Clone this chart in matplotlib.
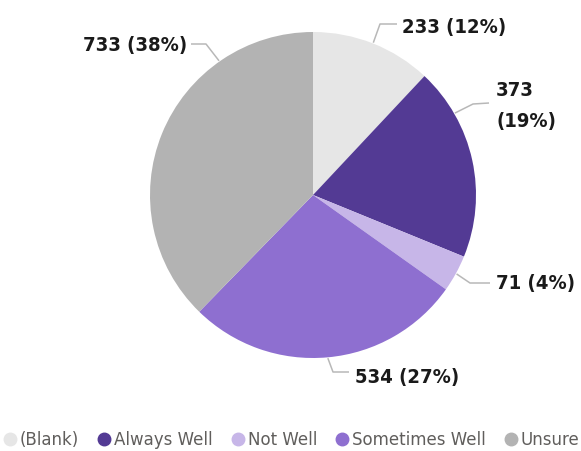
import numpy as np
import matplotlib
matplotlib.use("Agg")
import matplotlib.pyplot as plt
from matplotlib.lines import Line2D

categories = ["(Blank)", "Always Well", "Not Well", "Sometimes Well", "Unsure"]
counts = [233, 373, 71, 534, 733]
percent_labels = ["12%", "19%", "4%", "27%", "38%"]
colors = ["#E6E6E6", "#533A94", "#C7B6E8", "#8E6FD0", "#B3B3B3"]

W, H = 581, 451
fig = plt.figure(figsize=(W / 100, H / 100), dpi=100)

# pie centre and radius in pixels
cx, cy, R = 313, 195, 163
ax = fig.add_axes([(cx - R) / W, (H - cy - R) / H, 2 * R / W, 2 * R / H])
ax.pie(counts, colors=colors, startangle=90, counterclock=False, radius=1,
       wedgeprops=dict(linewidth=0))
ax.set_xlim(-1, 1)
ax.set_ylim(-1, 1)
ax.set_aspect("equal")
ax.axis("off")


def px(x, y):
    return ((x - cx) / R, (cy - y) / R)


# leader geometry: anchor angle on rim, elbow, end of line, text position, alignment
leaders = [
    (68.4, px(380, 24), px(397, 24), px(402, 27), "left"),
    (30.0, px(473, 104), px(489, 103), px(496, 106), "left"),
    (-28.8, px(470, 283), px(490, 283), px(496, 284), "left"),
    (-84.8, px(333, 372), px(349, 372), px(355, 377), "left"),
    (125.0, px(206, 44), px(191, 44), px(187, 45), "right"),
]

label_font = dict(family="DejaVu Sans", fontweight="bold", fontstretch="condensed",
                  fontsize=14.5, color="#1A1A1A")

for i, (ang, elbow, end, tpos, ha) in enumerate(leaders):
    a = np.deg2rad(ang)
    start = (np.cos(a) * 1.005, np.sin(a) * 1.005)
    ax.plot([start[0], elbow[0], end[0]], [start[1], elbow[1], end[1]],
            color="#B8B8B8", lw=1.1, clip_on=False, solid_capstyle="butt")
    text = f"{counts[i]} ({percent_labels[i]})"
    if categories[i] == "Always Well":
        text = f"{counts[i]}\n({percent_labels[i]})"
    ax.text(tpos[0], tpos[1], text, ha=ha, va="center", clip_on=False,
            linespacing=1.75, **label_font)

handles = [Line2D([0], [0], marker="o", linestyle="none", markersize=9,
                  markerfacecolor=c, markeredgecolor=c) for c in colors]
fig.legend(handles, categories, loc="center", bbox_to_anchor=(0.5, (H - 440) / H),
           ncol=5, frameon=False, handletextpad=0.1, columnspacing=1.0,
           handlelength=1.0, prop=dict(family="DejaVu Sans", size=12),
           labelcolor="#605E5C")

fig.savefig("out.png", dpi=100)
